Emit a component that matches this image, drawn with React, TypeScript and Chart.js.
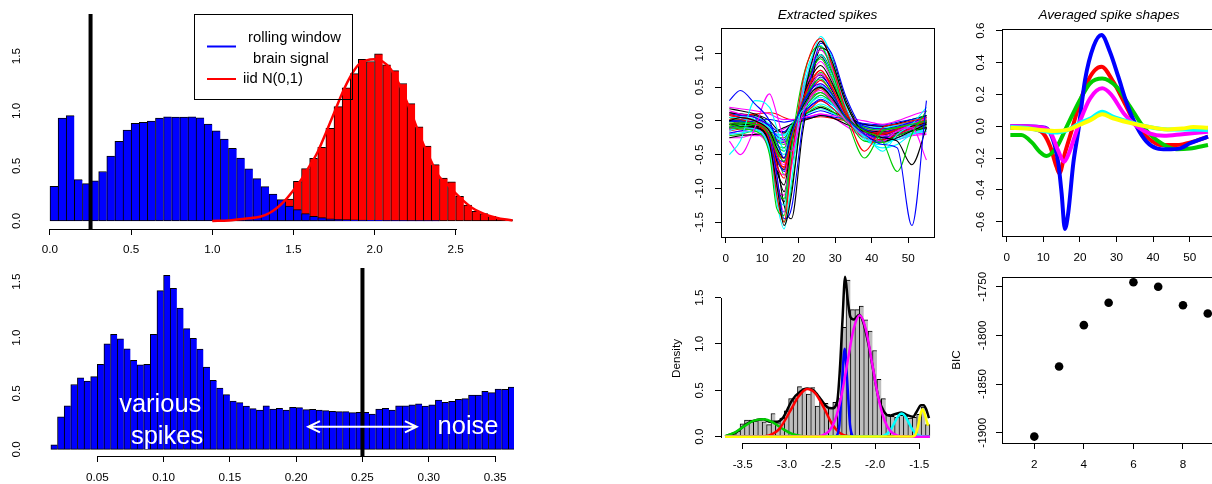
import React, { useEffect, useRef } from "react";
import { Chart, registerables } from "chart.js";

Chart.register(...registerables);

const FAMILY = '"Liberation Sans", Arial, Helvetica, sans-serif';
const TICK_FONT_SIZE = 11.7;
const TITLE_FONT_SIZE = 13.6;
const TICK_LEN = 6;

// ---------------- Panel 1: rolling window vs iid N(0,1) ----------------
const SIGNAL_BIN_START = 0.0;
const SIGNAL_BIN_WIDTH = 0.05;
const SIGNAL_DENSITY = [
  0.315, 0.936, 0.958, 0.376, 0.34, 0.364, 0.45, 0.59, 0.724, 0.827,
  0.888, 0.897, 0.909, 0.936, 0.948, 0.945, 0.945, 0.948, 0.939, 0.88,
  0.82, 0.745, 0.66, 0.573, 0.473, 0.385, 0.312, 0.245, 0.194, 0.136,
  0.103, 0.067, 0.042, 0.03, 0.02, 0.015, 0.012, 0.01, 0.008, 0.006,
  0.005, 0.004, 0.003, 0.003, 0.002, 0.002, 0.001, 0.001,
];
const IID_BIN_START = 1.0;
const IID_BIN_WIDTH = 0.05;
const IID_DENSITY = [
  0.002, 0.003, 0.005, 0.01, 0.018, 0.028, 0.045, 0.075, 0.12, 0.2,
  0.36, 0.476, 0.57, 0.67, 0.842, 1.04, 1.21, 1.34, 1.47, 1.45,
  1.52, 1.42, 1.367, 1.25, 1.067, 0.857, 0.68, 0.512, 0.39, 0.357,
  0.224, 0.145, 0.088, 0.067, 0.042, 0.024, 0.012,
];
const IID_CURVE_X = [
  1.0, 1.1, 1.2, 1.3, 1.35, 1.4, 1.45, 1.5, 1.55, 1.6, 1.65, 1.7, 1.75, 1.8, 1.85, 1.9, 1.95, 2.0,
  2.05, 2.1, 2.15, 2.2, 2.25, 2.3, 2.35, 2.4, 2.45, 2.5, 2.55, 2.6, 2.65, 2.7, 2.75, 2.8, 2.85,
];
const IID_CURVE_Y = [
  0.0, 0.005, 0.02, 0.04, 0.07, 0.12, 0.19, 0.28, 0.38, 0.5, 0.63, 0.8, 0.98, 1.16, 1.31, 1.42, 1.46, 1.47,
  1.45, 1.38, 1.25, 1.08, 0.89, 0.7, 0.54, 0.4, 0.33, 0.25, 0.18, 0.12, 0.08, 0.05, 0.03, 0.015, 0.005,
];
const TOP_THRESHOLD = 0.25;
const TOP_X_TICKS = [0, 0.5, 1, 1.5, 2, 2.5];
const TOP_Y_TICKS = [0, 0.5, 1, 1.5];
const TOP_X_RANGE = [-0.117, 2.964];
const TOP_Y_RANGE = [-0.073, 1.882];
const LEGEND_LINES = ["rolling window", "brain signal", "iid N(0,1)"];

// ---------------- Panel 2: window statistic ----------------
const WINDOW_BIN_START = 0.015;
const WINDOW_BIN_WIDTH = 0.005;
const WINDOW_DENSITY = [
  0.04, 0.29, 0.39, 0.58, 0.64, 0.61, 0.65, 0.76, 0.945, 1.03,
  0.99, 0.9, 0.796, 0.757, 0.76, 1.03, 1.42, 1.557, 1.44, 1.264,
  1.08, 0.993, 0.898, 0.737, 0.617, 0.549, 0.49, 0.432, 0.418, 0.388,
  0.364, 0.352, 0.39, 0.36, 0.367, 0.352, 0.376, 0.373, 0.355, 0.358,
  0.352, 0.346, 0.34, 0.337, 0.337, 0.328, 0.331, 0.331, 0.316, 0.361,
  0.367, 0.352, 0.39, 0.39, 0.397, 0.406, 0.388, 0.397, 0.44, 0.42,
  0.43, 0.447, 0.453, 0.486, 0.486, 0.519, 0.507, 0.54, 0.537, 0.558,
];
const WINDOW_THRESHOLD = 0.25;
const WINDOW_X_TICKS = [0.05, 0.1, 0.15, 0.2, 0.25, 0.3, 0.35];
const WINDOW_Y_TICKS = [0, 0.5, 1, 1.5];
const WINDOW_X_RANGE = [0.0, 0.3643];
const WINDOW_Y_RANGE = [-0.06, 1.623];
const ANNOTATION_TEXT = ["various", "spikes", "noise"];

// ---------------- Panel 3: extracted spikes ----------------
const SPIKE_T = [1, 4, 8, 12, 14, 16, 18, 21, 24, 26, 29, 33, 38, 43, 47, 51, 55];
const SPIKE_TRACES = [
  [-0.05, -0.08, -0.1, -0.35, -0.95, -1.55, -1.1, 0.2, 0.95, 1.18, 0.9, 0.25, -0.2, -0.3, -0.25, -0.15, -0.05],
  [0.05, 0.02, -0.05, -0.3, -1.1, -1.5, -0.6, 0.55, 1.1, 1.22, 0.85, 0.15, -0.25, -0.28, -0.2, -0.1, 0.0],
  [-0.1, -0.12, -0.15, -0.5, -1.3, -1.4, -0.4, 0.6, 1.05, 1.1, 0.75, 0.1, -0.3, -0.32, -0.22, -0.15, -0.08],
  [0.0, 0.0, -0.05, -0.25, -0.8, -1.45, -1.3, -0.1, 0.8, 1.15, 1.0, 0.35, -0.15, -0.25, -0.2, -0.1, -0.05],
  [-0.15, -0.1, -0.12, -0.45, -1.2, -1.6, -0.9, 0.35, 1.0, 1.25, 0.95, 0.2, -0.28, -0.35, -0.25, -0.18, -0.12],
  [0.1, 0.05, 0.0, -0.2, -0.9, -1.35, -0.7, 0.4, 0.9, 1.05, 0.8, 0.18, -0.18, -0.22, -0.15, -0.05, 0.05],
  [-0.05, -0.05, -0.08, -0.3, -0.75, -0.95, -0.35, 0.3, 0.7, 0.82, 0.58, 0.1, -0.18, -0.22, -0.15, -0.08, -0.03],
  [0.08, 0.05, 0.0, -0.25, -0.65, -0.85, -0.3, 0.28, 0.62, 0.75, 0.52, 0.08, -0.15, -0.2, -0.12, -0.05, 0.02],
  [-0.05, -0.03, -0.05, -0.15, -0.3, -0.35, -0.12, 0.12, 0.3, 0.38, 0.28, 0.05, -0.1, -0.14, -0.1, -0.05, -0.02],
  [0.1, 0.08, 0.05, -0.08, -0.22, -0.28, -0.1, 0.1, 0.26, 0.32, 0.24, 0.06, -0.08, -0.12, -0.08, -0.02, 0.04],
  [-0.2, -0.18, -0.15, -0.4, -1.05, -1.25, -0.5, 0.45, 0.85, 0.98, 0.7, 0.12, -0.22, -0.3, -0.28, -0.2, -0.15],
  [-0.12, -0.1, -0.1, -0.35, -0.7, -0.8, -0.25, 0.25, 0.58, 0.7, 0.5, 0.05, -0.2, -0.25, -0.2, -0.12, -0.08],
  [-0.25, -0.22, -0.2, -0.18, -0.15, -0.1, -0.05, 0.0, 0.05, 0.08, 0.05, -0.05, -0.15, -0.2, -0.18, -0.12, -0.1],
  [-0.15, -0.12, -0.1, -0.18, -0.28, -0.3, -0.1, 0.08, 0.22, 0.3, 0.2, 0.0, -0.15, -0.18, -0.15, -0.12, -0.1],
  [0.05, 0.0, -0.08, -0.35, -1.0, -1.15, -0.45, 0.4, 0.8, 0.92, 0.65, 0.1, -0.2, -0.25, -0.18, -0.1, -0.02],
  [0.0, -0.02, -0.05, -0.2, -0.55, -0.75, -0.35, 0.2, 0.52, 0.65, 0.48, 0.1, -0.12, -0.18, -0.12, -0.06, 0.0],
  [0.05, 0.03, 0.0, -0.1, -0.2, -0.22, -0.05, 0.1, 0.2, 0.25, 0.18, 0.04, -0.08, -0.1, -0.06, 0.0, 0.05],
  [0.2, 0.18, 0.15, 0.1, 0.05, 0.02, 0.02, 0.05, 0.08, 0.1, 0.08, 0.05, 0.0, -0.05, 0.0, 0.08, 0.15],
  [-0.12, -0.1, -0.08, -0.2, -0.6, -1.25, -1.45, -0.2, 0.7, 1.08, 0.95, 0.3, -0.18, -0.28, -0.22, -0.15, -0.1],
  [-0.08, -0.05, -0.06, -0.28, -0.6, -0.68, -0.22, 0.22, 0.5, 0.6, 0.42, 0.06, -0.16, -0.2, -0.14, -0.08, -0.04],
  [-0.22, -0.2, -0.15, -0.2, -0.25, -0.25, -0.08, 0.06, 0.18, 0.22, 0.15, -0.02, -0.15, -0.2, -0.18, -0.15, -0.12],
  [-0.1, -0.05, 0.0, 0.02, 0.0, -0.02, 0.0, 0.03, 0.06, 0.08, 0.06, 0.02, -0.04, -0.06, -0.02, 0.02, 0.05],
  [0.08, 0.06, 0.02, -0.28, -1.15, -1.35, -0.55, 0.5, 1.0, 1.12, 0.8, 0.15, -0.22, -0.3, -0.18, -0.08, 0.02],
  [0.15, 0.1, 0.05, -0.15, -0.5, -0.65, -0.25, 0.18, 0.45, 0.55, 0.38, 0.08, -0.1, -0.15, -0.1, -0.02, 0.05],
  [0.18, 0.15, 0.1, 0.0, -0.12, -0.18, -0.05, 0.08, 0.16, 0.2, 0.14, 0.04, -0.05, -0.08, -0.04, 0.02, 0.08],
  [0.05, 0.08, 0.1, 0.12, 0.1, 0.05, 0.02, 0.02, 0.05, 0.06, 0.04, 0.0, -0.08, -0.12, -0.1, -0.05, 0.0],
  [-0.02, 0.0, -0.04, -0.2, -0.45, -0.8, -0.65, 0.05, 0.55, 0.72, 0.55, 0.12, -0.12, -0.2, -0.15, -0.08, -0.02],
  [-0.18, -0.15, -0.12, -0.3, -0.55, -0.6, -0.2, 0.2, 0.45, 0.52, 0.35, 0.02, -0.2, -0.24, -0.2, -0.15, -0.12],
  [-0.08, -0.06, -0.08, -0.14, -0.2, -0.2, -0.06, 0.06, 0.15, 0.18, 0.12, 0.0, -0.1, -0.12, -0.1, -0.06, -0.04],
  [-0.18, -0.2, -0.22, -0.2, -0.18, -0.12, -0.05, 0.02, 0.08, 0.1, 0.06, -0.08, -0.25, -0.3, -0.25, -0.18, -0.15],
  [0.12, 0.1, 0.05, -0.18, -0.58, -0.72, -0.28, 0.25, 0.6, 0.68, 0.46, 0.06, -0.14, -0.16, -0.1, -0.02, 0.06],
  [0.02, 0.0, -0.02, -0.22, -0.48, -0.55, -0.18, 0.18, 0.4, 0.48, 0.32, 0.05, -0.14, -0.18, -0.12, -0.06, -0.02],
  [-0.1, -0.08, -0.06, -0.12, -0.35, -0.45, -0.18, 0.15, 0.35, 0.42, 0.3, 0.04, -0.12, -0.16, -0.12, -0.08, -0.06],
  [0.0, 0.02, 0.02, -0.06, -0.15, -0.16, -0.04, 0.05, 0.12, 0.15, 0.1, 0.02, -0.06, -0.08, -0.05, -0.02, 0.0],
  [0.02, 0.0, -0.02, -0.1, -0.38, -0.5, -0.2, 0.18, 0.4, 0.48, 0.35, 0.06, -0.1, -0.14, -0.1, -0.04, 0.0],
  [-0.2, -0.15, -0.18, -0.45, -1.0, -1.1, -0.35, 0.35, 0.75, 0.88, 0.62, 0.1, -0.25, -0.32, -0.25, -0.2, -0.18],
  [0.12, 0.1, 0.08, -0.15, -0.7, -1.05, -0.5, 0.3, 0.78, 0.95, 0.7, 0.15, -0.15, -0.2, -0.12, -0.02, 0.08],
  [-0.05, -0.02, 0.0, -0.1, -0.4, -0.62, -0.3, 0.15, 0.42, 0.5, 0.36, 0.05, -0.12, -0.15, -0.1, -0.05, -0.02],
  [0.0, -0.05, -0.1, -0.3, -0.85, -1.5, -1.0, 0.1, 0.85, 1.05, 0.85, 0.25, -0.2, -0.28, -0.2, -0.12, -0.06],
  [-0.12, -0.1, -0.12, -0.2, -0.3, -0.32, -0.12, 0.1, 0.25, 0.3, 0.2, 0.0, -0.18, -0.25, -0.2, -0.14, -0.1],
  [0.08, 0.1, 0.06, -0.05, -0.25, -0.4, -0.2, 0.12, 0.32, 0.38, 0.26, 0.04, -0.1, -0.12, -0.06, 0.02, 0.08],
  [-0.25, -0.25, -0.2, -0.3, -0.5, -0.55, -0.2, 0.15, 0.35, 0.42, 0.28, -0.02, -0.22, -0.3, -0.28, -0.22, -0.2],
  [0.0, 0.0, -0.03, -0.28, -0.9, -1.2, -0.5, 0.35, 0.82, 0.98, 0.72, 0.12, -0.2, -0.25, -0.18, -0.08, -0.02],
];
const SPIKE_PALETTE = ["#000000", "#FF0000", "#00CD00", "#0000FF", "#00FFFF", "#FF00FF"];
const OUTLIER_TRACES = [
  [0.3, 0.45, 0.25, 0.0, -0.3, -0.55, -0.2, 0.25, 0.5, 0.55, 0.4, 0.05, -0.2, -0.35, -0.4, -1.55, 0.3],
  [-0.05, -0.1, -0.05, -0.2, -0.45, -0.6, -0.2, 0.25, 0.55, 0.62, 0.42, 0.05, -0.15, -0.3, -0.75, -0.2, 0.15],
  [0.0, 0.05, 0.0, -0.15, -0.4, -0.55, -0.15, 0.2, 0.45, 0.5, 0.35, 0.05, -0.15, -0.25, -0.3, -0.65, -0.1],
  [0.1, 0.05, 0.0, -0.2, -0.5, -0.7, -0.25, 0.3, 0.65, 0.75, 0.5, 0.1, -0.45, -0.1, -0.05, 0.0, 0.05],
  [-0.5, -0.3, 0.3, 0.2, -0.1, -0.45, -0.2, 0.2, 0.45, 0.52, 0.38, 0.05, -0.25, -0.4, -0.35, -0.2, -0.15],
  [-0.3, -0.5, -0.1, 0.4, 0.1, -0.3, -0.45, 0.1, 0.4, 0.45, 0.3, 0.0, -0.2, -0.3, -0.15, -0.1, -0.58],
  [-0.08, -0.05, -0.02, -0.15, -0.35, -0.4, -0.1, 0.2, 0.38, 0.42, 0.3, 0.02, -0.55, -0.15, -0.1, -0.05, 0.0],
  [0.05, 0.05, 0.0, -0.1, -0.25, -0.3, -0.08, 0.15, 0.3, 0.35, 0.25, 0.0, -0.2, -0.45, -0.2, -0.05, 0.2],
];
const OUTLIER_COLORS = ["#0000FF", "#00CD00", "#000000", "#FF0000", "#00FFFF", "#FF00FF", "#00CD00", "#00FFFF"];
const SPIKE_X_TICKS = [0, 10, 20, 30, 40, 50];
const SPIKE_Y_TICKS = [-1.5, -1, -0.5, 0, 0.5, 1];

// ---------------- Panel 4: averaged spike shapes ----------------
const AVG_BLUE_T = [1, 5, 10.5, 12.7, 14.1, 15.0, 15.9, 16.8, 18.2, 19.6, 21.4, 23.7, 25.9, 28.2, 30.5, 32.8, 35.5, 38.2, 41.0, 43.7, 47.4, 50.1, 55];
const AVG_BLUE_V = [0.0, 0.0, -0.01, -0.087, -0.233, -0.42, -0.645, -0.547, -0.233, -0.024, 0.29, 0.5, 0.573, 0.468, 0.311, 0.144, -0.003, -0.097, -0.139, -0.145, -0.139, -0.107, -0.066];
const AVG_RED_T = [1, 5, 8, 10, 11.9, 13.6, 14.4, 15.9, 17.8, 19.6, 21.9, 24, 25.9, 29.1, 31.9, 35.5, 38.7, 41.9, 46.4, 51, 55];
const AVG_RED_V = [-0.01, -0.01, -0.02, -0.045, -0.128, -0.254, -0.296, -0.17, -0.024, 0.122, 0.27, 0.35, 0.374, 0.28, 0.16, 0.0, -0.076, -0.118, -0.118, -0.097, -0.066];
const AVG_GREEN_T = [1, 4, 7, 9, 10.9, 13.7, 16.4, 20, 22.8, 26.1, 30, 33.7, 37.3, 41, 46.4, 50.1, 55];
const AVG_GREEN_V = [-0.055, -0.055, -0.105, -0.16, -0.187, -0.13, -0.003, 0.165, 0.27, 0.3, 0.248, 0.123, -0.003, -0.087, -0.145, -0.14, -0.118];
const AVG_MAGENTA_T = [1, 5, 10, 12, 14, 15.7, 17, 18.5, 20, 22.8, 26.1, 28.5, 32, 35.5, 39, 43, 48, 55];
const AVG_MAGENTA_V = [0.0, 0.0, -0.01, -0.04, -0.15, -0.223, -0.17, -0.07, 0.03, 0.175, 0.238, 0.2, 0.08, 0.0, -0.045, -0.06, -0.05, -0.035];
const AVG_CYAN_T = [1, 5, 10, 12.7, 15, 17, 20, 23, 26.1, 29, 33, 38, 44, 50, 55];
const AVG_CYAN_V = [-0.005, -0.01, -0.03, -0.04, -0.035, -0.02, 0.02, 0.05, 0.091, 0.06, 0.03, 0.0, -0.02, -0.02, -0.025];
const AVG_YELLOW_T = [1, 5, 10, 13, 17, 20, 23, 26.1, 29, 33, 38, 44, 48, 51, 55];
const AVG_YELLOW_V = [-0.01, -0.015, -0.025, -0.03, -0.02, 0.01, 0.04, 0.075, 0.05, 0.025, 0.0, -0.02, -0.015, -0.005, -0.01];
const AVG_Y_TICKS = [-0.6, -0.4, -0.2, 0, 0.2, 0.4, 0.6];

// ---------------- Panel 5: density with mixture components ----------------
const DENS_BIN_START = -3.68;
const DENS_BIN_WIDTH = 0.05;
const DENS_VALUES = [
  0.02, 0.04, 0.06, 0.14, 0.18, 0.18, 0.17, 0.19, 0.16, 0.13,
  0.25, 0.15, 0.2, 0.28, 0.41, 0.41, 0.54, 0.52, 0.46, 0.53,
  0.33, 0.37, 0.36, 0.31, 0.37, 0.41, 1.18, 1.69, 1.37, 1.37,
  1.41, 1.26, 1.14, 0.93, 0.62, 0.41, 0.24, 0.22, 0.21, 0.23,
  0.22, 0.2, 0.21, 0.24, 0.32, 0.13,
];
const MIX_TOTAL_X = [-3.68, -3.57, -3.455, -3.34, -3.265, -3.19, -3.11, -3.04, -2.94, -2.85, -2.77, -2.7, -2.62, -2.545, -2.49, -2.43, -2.4, -2.37, -2.34, -2.31, -2.28, -2.24, -2.18, -2.13, -2.07, -2.015, -1.96, -1.9, -1.84, -1.77, -1.7, -1.64, -1.57, -1.53, -1.48, -1.45, -1.42, -1.39];
const MIX_TOTAL_Y = [0.01, 0.05, 0.14, 0.18, 0.187, 0.16, 0.16, 0.21, 0.395, 0.485, 0.52, 0.5, 0.41, 0.32, 0.306, 0.378, 0.72, 1.26, 1.726, 1.47, 1.29, 1.265, 1.315, 1.22, 0.97, 0.68, 0.41, 0.27, 0.227, 0.245, 0.26, 0.234, 0.216, 0.27, 0.34, 0.34, 0.29, 0.2];
const MIX_GREEN_X = [-3.7, -3.6, -3.49, -3.38, -3.265, -3.15, -3.04, -2.94, -2.84, -2.7, -1.38];
const MIX_GREEN_Y = [0.005, 0.04, 0.108, 0.17, 0.187, 0.15, 0.08, 0.03, 0.008, 0, 0];
const MIX_RED_X = [-3.7, -3.25, -3.15, -3.08, -2.96, -2.87, -2.77, -2.68, -2.58, -2.49, -2.4, -2.3, -1.38];
const MIX_RED_Y = [0, 0.005, 0.035, 0.09, 0.28, 0.43, 0.514, 0.47, 0.31, 0.14, 0.04, 0.005, 0];
const MIX_BLUE_X = [-3.7, -2.46, -2.435, -2.405, -2.375, -2.345, -2.315, -2.285, -2.255, -2.23, -1.38];
const MIX_BLUE_Y = [0, 0, 0.01, 0.13, 0.576, 0.95, 0.576, 0.13, 0.01, 0, 0];
const MIX_MAGENTA_X = [-3.7, -2.675, -2.595, -2.525, -2.455, -2.385, -2.315, -2.245, -2.175, -2.105, -2.035, -1.965, -1.895, -1.825, -1.755, -1.675, -1.38];
const MIX_MAGENTA_Y = [0, 0.002, 0.015, 0.057, 0.177, 0.425, 0.795, 1.156, 1.31, 1.156, 0.795, 0.425, 0.177, 0.057, 0.015, 0.002, 0];
const MIX_CYAN_X = [-3.7, -1.96, -1.9, -1.86, -1.82, -1.78, -1.74, -1.7, -1.66, -1.62, -1.58, -1.54, -1.5, -1.44, -1.38];
const MIX_CYAN_Y = [0, 0.001, 0.011, 0.034, 0.081, 0.152, 0.221, 0.25, 0.221, 0.152, 0.081, 0.034, 0.011, 0.001, 0];
const MIX_YELLOW_X = [-3.7, -1.58, -1.54, -1.51, -1.49, -1.465, -1.44, -1.42, -1.4];
const MIX_YELLOW_Y = [0, 0.002, 0.03, 0.13, 0.23, 0.295, 0.25, 0.18, 0.12];
const DENS_X_TICKS = [-3.5, -3, -2.5, -2, -1.5];
const DENS_Y_TICKS = [0, 0.5, 1, 1.5];

// ---------------- Panel 6: BIC ----------------
const BIC_K = [2, 3, 4, 5, 6, 7, 8, 9];
const BIC_VALUES = [-1904, -1832, -1789.5, -1766.5, -1745.5, -1750, -1769, -1777.5];
const BIC_X_TICKS = [2, 4, 6, 8];
const BIC_Y_TICKS = [-1900, -1850, -1800, -1750];

// ---------------- helpers ----------------
const binCenters = (start: number, width: number, n: number) =>
  Array.from({ length: n }, (_, i) => +(start + (i + 0.5) * width).toFixed(6));
const pairs = (xs: number[], ys: number[]) => xs.map((x, i) => ({ x, y: ys[i] }));

let measureCtx: any = null;
function textWidth(text: string, size: number) {
  if (!measureCtx) measureCtx = document.createElement("canvas").getContext("2d");
  measureCtx.font = `${size}px ${FAMILY}`;
  return measureCtx.measureText(text).width;
}

function histDataset(start: number, width: number, values: number[], fill: string, order: number) {
  const centers = binCenters(start, width, values.length);
  const last = values.length - 1;
  return {
    type: "bar",
    data: centers.map((x, i) => ({ x, y: values[i] })),
    backgroundColor: fill,
    borderColor: "#000",
    borderWidth: (c: any) => ({ top: 1, left: 1, bottom: 1, right: c.dataIndex === last ? 1 : 0 }),
    borderSkipped: false,
    grouped: false,
    barPercentage: 1,
    categoryPercentage: 1,
    order,
  };
}

function curveDataset(xs: number[], ys: number[], color: string, width: number, order: number) {
  return {
    type: "line",
    data: pairs(xs, ys),
    borderColor: color,
    borderWidth: width,
    pointRadius: 0,
    showLine: true,
    fill: false,
    cubicInterpolationMode: "monotone",
    order,
  };
}

function vlineDataset(x: number, yRange: number[], order: number) {
  return {
    type: "line",
    data: [{ x, y: yRange[0] }, { x, y: yRange[1] }],
    borderColor: "#000",
    borderWidth: 4,
    pointRadius: 0,
    showLine: true,
    fill: false,
    order,
  };
}

const fmt1 = (v: number) => v.toFixed(1);
const fmt2 = (v: number) => v.toFixed(2);
const fmt0 = (v: number) => String(Math.round(v));

function framePlugin(spec: any) {
  return {
    id: "rFrame",
    beforeDatasetsDraw(chart: any) {
      const { ctx, chartArea: a, scales } = chart;
      ctx.save();
      ctx.strokeStyle = "#000";
      ctx.lineWidth = 1;
      if (spec.x.line === "partial") {
        const t = spec.x.ticks;
        const y = Math.round(a.bottom) + 0.5;
        ctx.beginPath();
        ctx.moveTo(Math.round(scales.x.getPixelForValue(t[0])), y);
        ctx.lineTo(Math.round(scales.x.getPixelForValue(t[t.length - 1])) + 1, y);
        ctx.stroke();
      }
      if (spec.y.line === "partial") {
        const t = spec.y.ticks;
        const x = Math.round(a.left) + 0.5;
        ctx.beginPath();
        ctx.moveTo(x, Math.round(scales.y.getPixelForValue(t[0])) + 1);
        ctx.lineTo(x, Math.round(scales.y.getPixelForValue(t[t.length - 1])));
        ctx.stroke();
      }
      ctx.restore();
    },
    afterDatasetsDraw(chart: any) {
      if (!spec.box) return;
      const { ctx, chartArea: a } = chart;
      ctx.save();
      ctx.strokeStyle = "#000";
      ctx.lineWidth = 1;
      const l = Math.round(a.left), t = Math.round(a.top), r = Math.round(a.right), b = Math.round(a.bottom);
      ctx.strokeRect(l + 0.5, t + 0.5, r - l, b - t);
      ctx.restore();
    },
  };
}

function buildConfig(spec: any) {
  const { frame, area } = spec;
  const lh = TICK_FONT_SIZE * 1.2;
  const tickFont = { family: FAMILY, size: TICK_FONT_SIZE, lineHeight: 1.2 };
  const yWidth = area.l - frame.x;
  const xHeight = frame.y + frame.h - area.b;
  const hasTitle = !!spec.title;
  const tlh = TITLE_FONT_SIZE * 1.2;
  const titlePadTop = hasTitle ? spec.titleY - frame.y - tlh / 2 : 0;
  const titlePadBottom = hasTitle ? area.t - frame.y - titlePadTop - tlh : 0;

  const axis = (ax: any, isX: boolean) => {
    const tl = ax.tickMarks ? TICK_LEN : 0;
    const widest = Math.max(...ax.ticks.map((v: number) => textWidth(ax.fmt(v), TICK_FONT_SIZE)));
    return {
      type: "linear",
      position: isX ? "bottom" : "left",
      min: ax.min,
      max: ax.max,
      bounds: "data",
      offset: false,
      grid: {
        display: ax.tickMarks,
        drawOnChartArea: false,
        drawTicks: ax.tickMarks,
        tickLength: TICK_LEN,
        color: "#000",
        tickColor: "#000",
        tickWidth: 1,
        lineWidth: 1,
        offset: false,
      },
      border: { display: false },
      ticks: {
        autoSkip: false,
        color: "#000",
        font: tickFont,
        minRotation: isX ? 0 : 90,
        maxRotation: isX ? 0 : 90,
        crossAlign: isX ? "near" : "center",
        padding: isX ? ax.labelOffset - tl - lh / 2 : ax.labelOffset - tl - widest / 2,
        callback: (v: any) => ax.fmt(Number(v)),
      },
      title: ax.title
        ? { display: true, text: ax.title, color: "#000", font: tickFont, padding: { top: ax.titleOffset - lh / 2, bottom: 0 } }
        : { display: false },
      afterBuildTicks: (s: any) => {
        s.ticks = ax.ticks.map((v: number) => ({ value: v }));
      },
      afterFit: (s: any) => {
        if (isX) {
          s.height = xHeight;
          s.paddingLeft = 0;
          s.paddingRight = 0;
        } else {
          s.width = yWidth;
          s.paddingTop = 0;
          s.paddingBottom = 0;
        }
      },
    };
  };

  return {
    type: spec.type,
    data: { datasets: spec.datasets },
    options: {
      responsive: false,
      maintainAspectRatio: false,
      animation: false,
      devicePixelRatio: 1,
      events: [],
      layout: {
        padding: { top: hasTitle ? 0 : area.t - frame.y, right: frame.x + frame.w - area.r, bottom: 0, left: 0 },
      },
      plugins: {
        legend: { display: false },
        tooltip: { enabled: false },
        title: hasTitle
          ? {
              display: true,
              text: spec.title,
              position: "top",
              fullSize: false,
              align: "center",
              color: "#000",
              font: { family: FAMILY, size: TITLE_FONT_SIZE, style: "italic", weight: "normal", lineHeight: 1.2 },
              padding: { top: titlePadTop, bottom: titlePadBottom },
            }
          : { display: false },
      },
      scales: { x: axis(spec.x, true), y: axis(spec.y, false) },
    },
    plugins: [framePlugin(spec), ...(spec.plugins || [])],
  };
}

// ---------------- decorations ----------------
const signalLegendPlugin = {
  id: "signalLegend",
  afterDatasetsDraw(chart: any) {
    const ctx = chart.ctx;
    ctx.save();
    ctx.strokeStyle = "#000";
    ctx.lineWidth = 1;
    ctx.strokeRect(194.5, 14.5, 158, 85);
    ctx.lineWidth = 2;
    ctx.strokeStyle = "#0000FF";
    ctx.beginPath();
    ctx.moveTo(207, 46.5);
    ctx.lineTo(236, 46.5);
    ctx.stroke();
    ctx.strokeStyle = "#FF0000";
    ctx.beginPath();
    ctx.moveTo(207, 79);
    ctx.lineTo(236, 79);
    ctx.stroke();
    ctx.fillStyle = "#000";
    ctx.font = `14.8px ${FAMILY}`;
    ctx.textAlign = "left";
    ctx.textBaseline = "middle";
    ctx.fillText(LEGEND_LINES[0], 248, 37.5);
    ctx.fillText(LEGEND_LINES[1], 253, 58.5);
    ctx.fillText(LEGEND_LINES[2], 243, 79);
    ctx.restore();
  },
};

const windowAnnotationPlugin = {
  id: "windowAnnotations",
  afterDatasetsDraw(chart: any) {
    const { ctx, scales } = chart;
    const px = (v: number) => scales.x.getPixelForValue(v);
    const py = (v: number) => scales.y.getPixelForValue(v);
    ctx.save();
    ctx.fillStyle = "#FFFFFF";
    ctx.font = `25.5px ${FAMILY}`;
    ctx.textAlign = "center";
    ctx.textBaseline = "alphabetic";
    ctx.fillText(ANNOTATION_TEXT[0], px(0.0975), py(0.337));
    ctx.fillText(ANNOTATION_TEXT[1], px(0.1026), py(0.047));
    ctx.fillText(ANNOTATION_TEXT[2], px(0.3296), py(0.134));
    const x0 = px(0.2091), x1 = px(0.2909), y = py(0.202);
    const head = 13, ang = Math.PI / 7;
    ctx.strokeStyle = "#FFFFFF";
    ctx.lineWidth = 2;
    ctx.beginPath();
    ctx.moveTo(x0, y);
    ctx.lineTo(x1, y);
    ctx.moveTo(x0 + head * Math.cos(ang), y - head * Math.sin(ang));
    ctx.lineTo(x0, y);
    ctx.lineTo(x0 + head * Math.cos(ang), y + head * Math.sin(ang));
    ctx.moveTo(x1 - head * Math.cos(ang), y - head * Math.sin(ang));
    ctx.lineTo(x1, y);
    ctx.lineTo(x1 - head * Math.cos(ang), y + head * Math.sin(ang));
    ctx.stroke();
    ctx.restore();
  },
};

// ---------------- panel specs ----------------
const PANELS: any[] = [
  {
    frame: { x: 0, y: 0, w: 560, h: 262 },
    area: { l: 31, t: 14, r: 531, b: 229 },
    type: "bar",
    x: { min: TOP_X_RANGE[0], max: TOP_X_RANGE[1], ticks: TOP_X_TICKS, fmt: fmt1, labelOffset: 21, tickMarks: true, line: "partial" },
    y: { min: TOP_Y_RANGE[0], max: TOP_Y_RANGE[1], ticks: TOP_Y_TICKS, fmt: fmt1, labelOffset: 14, tickMarks: false, line: "none" },
    datasets: [
      vlineDataset(TOP_THRESHOLD, TOP_Y_RANGE, 0),
      curveDataset(IID_CURVE_X, IID_CURVE_Y, "#FF0000", 2.5, 1),
      histDataset(SIGNAL_BIN_START, SIGNAL_BIN_WIDTH, SIGNAL_DENSITY, "#0000FF", 2),
      histDataset(IID_BIN_START, IID_BIN_WIDTH, IID_DENSITY, "#FF0000", 3),
    ],
    plugins: [signalLegendPlugin],
  },
  {
    frame: { x: 0, y: 262, w: 560, h: 222 },
    area: { l: 31, t: 268, r: 514, b: 456 },
    type: "bar",
    x: { min: WINDOW_X_RANGE[0], max: WINDOW_X_RANGE[1], ticks: WINDOW_X_TICKS, fmt: fmt2, labelOffset: 22, tickMarks: true, line: "partial" },
    y: { min: WINDOW_Y_RANGE[0], max: WINDOW_Y_RANGE[1], ticks: WINDOW_Y_TICKS, fmt: fmt1, labelOffset: 14, tickMarks: false, line: "none" },
    datasets: [
      vlineDataset(WINDOW_THRESHOLD, WINDOW_Y_RANGE, 0),
      histDataset(WINDOW_BIN_START, WINDOW_BIN_WIDTH, WINDOW_DENSITY, "#0000FF", 1),
    ],
    plugins: [windowAnnotationPlugin],
  },
  {
    frame: { x: 660, y: 0, w: 280, h: 270 },
    area: { l: 721, t: 28, r: 934, b: 237 },
    type: "scatter",
    title: "Extracted spikes",
    titleY: 15.7,
    box: true,
    x: { min: -1.29, max: 57.07, ticks: SPIKE_X_TICKS, fmt: fmt0, labelOffset: 21.5, tickMarks: true, line: "box" },
    y: { min: -1.72, max: 1.375, ticks: SPIKE_Y_TICKS, fmt: fmt1, labelOffset: 21, tickMarks: true, line: "box" },
    datasets: [
      ...SPIKE_TRACES.map((tr, i) => curveDataset(SPIKE_T, tr, SPIKE_PALETTE[i % SPIKE_PALETTE.length], 1.1, 10 + i)),
      ...OUTLIER_TRACES.map((tr, i) => curveDataset(SPIKE_T, tr, OUTLIER_COLORS[i], 1.1, i)),
    ],
  },
  {
    frame: { x: 940, y: 0, w: 290, h: 270 },
    area: { l: 1002, t: 29, r: 1216, b: 236 },
    type: "scatter",
    title: "Averaged spike shapes",
    titleY: 15.7,
    box: true,
    x: { min: -1.284, max: 57.19, ticks: SPIKE_X_TICKS, fmt: fmt0, labelOffset: 22, tickMarks: true, line: "box" },
    y: { min: -0.6897, max: 0.6106, ticks: AVG_Y_TICKS, fmt: fmt1, labelOffset: 21.5, tickMarks: true, line: "box" },
    datasets: [
      curveDataset(AVG_YELLOW_T, AVG_YELLOW_V, "#FFFF00", 4, 0),
      curveDataset(AVG_CYAN_T, AVG_CYAN_V, "#00FFFF", 4, 1),
      curveDataset(AVG_MAGENTA_T, AVG_MAGENTA_V, "#FF00FF", 4, 2),
      curveDataset(AVG_BLUE_T, AVG_BLUE_V, "#0000FF", 4, 3),
      curveDataset(AVG_GREEN_T, AVG_GREEN_V, "#00CD00", 4, 4),
      curveDataset(AVG_RED_T, AVG_RED_V, "#FF0000", 4, 5),
    ],
  },
  {
    frame: { x: 660, y: 262, w: 280, h: 222 },
    area: { l: 721, t: 274, r: 934, b: 443 },
    type: "bar",
    x: { min: -3.746, max: -1.3335, ticks: DENS_X_TICKS, fmt: fmt1, labelOffset: 22, tickMarks: true, line: "partial" },
    y: { min: -0.068, max: 1.755, ticks: DENS_Y_TICKS, fmt: fmt1, labelOffset: 21, tickMarks: true, line: "partial", title: "Density", titleOffset: 16.7 },
    datasets: [
      curveDataset(MIX_YELLOW_X, MIX_YELLOW_Y, "#FFFF00", 2.5, 0),
      curveDataset(MIX_MAGENTA_X, MIX_MAGENTA_Y, "#FF00FF", 2.5, 1),
      curveDataset(MIX_CYAN_X, MIX_CYAN_Y, "#00FFFF", 2.5, 2),
      curveDataset(MIX_BLUE_X, MIX_BLUE_Y, "#0000FF", 2.5, 3),
      curveDataset(MIX_RED_X, MIX_RED_Y, "#FF0000", 2.5, 4),
      curveDataset(MIX_GREEN_X, MIX_GREEN_Y, "#00CD00", 2.5, 5),
      curveDataset(MIX_TOTAL_X, MIX_TOTAL_Y, "#000000", 2.5, 6),
      histDataset(DENS_BIN_START, DENS_BIN_WIDTH, DENS_VALUES, "#BEBEBE", 7),
    ],
  },
  {
    frame: { x: 940, y: 262, w: 290, h: 222 },
    area: { l: 1002, t: 277, r: 1215, b: 443 },
    type: "scatter",
    box: true,
    x: { min: 0.6965, max: 9.292, ticks: BIC_X_TICKS, fmt: fmt0, labelOffset: 21.5, tickMarks: true, line: "box" },
    y: { min: -1910.6, max: -1740.03, ticks: BIC_Y_TICKS, fmt: fmt0, labelOffset: 19.5, tickMarks: true, line: "box", title: "BIC", titleOffset: 16.7 },
    datasets: [
      {
        type: "scatter",
        data: pairs(BIC_K, BIC_VALUES),
        pointRadius: 4.3,
        pointBackgroundColor: "#000",
        pointBorderWidth: 0,
        backgroundColor: "#000",
        borderColor: "#000",
        showLine: false,
      },
    ],
  },
];

function RPanel({ spec }: { spec: any }) {
  const ref = useRef<HTMLCanvasElement | null>(null);
  useEffect(() => {
    if (!ref.current) return;
    const chart = new Chart(ref.current, buildConfig(spec) as any);
    return () => chart.destroy();
  }, [spec]);
  const f = spec.frame;
  return (
    <canvas
      ref={ref}
      width={f.w}
      height={f.h}
      style={{ position: "absolute", left: f.x, top: f.y, width: f.w, height: f.h }}
    />
  );
}

export default function App() {
  return (
    <div
      style={{
        position: "absolute",
        left: 0,
        top: 0,
        width: 1212,
        height: 484,
        overflow: "hidden",
        background: "#FFFFFF",
      }}
    >
      {PANELS.map((p, i) => (
        <RPanel key={i} spec={p} />
      ))}
    </div>
  );
}
